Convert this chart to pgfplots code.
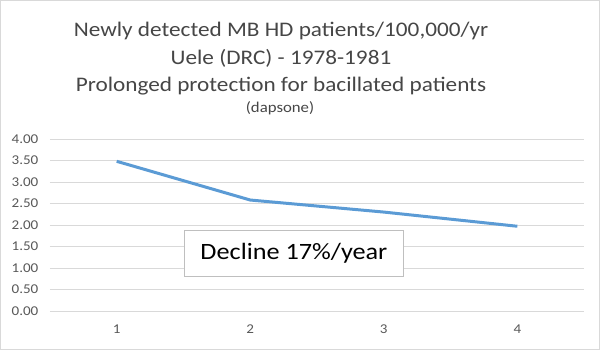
\documentclass[border=0pt]{standalone}
\usepackage{pgfplots}
\pgfplotsset{compat=1.18}
\usepackage{fontspec}
\setmainfont{Carlito}[FakeStretch=1.12]
\definecolor{lineblue}{RGB}{91,155,213}
\definecolor{gridgray}{RGB}{217,217,217}
\definecolor{ticktext}{RGB}{89,89,89}
\definecolor{titletext}{RGB}{70,70,70}
\definecolor{boxgray}{RGB}{191,191,191}
\begin{document}
\begin{tikzpicture}[x=1bp,y=1bp]
\draw[draw=gridgray, line width=0.75bp] (0.5,0.5) rectangle (599.5,349.5);
\node[text=titletext, font=\fontsize{20.8}{24}\selectfont] at (281,319) {Newly detected MB HD patients/100,000/yr};
\node[text=titletext, font=\fontsize{20.8}{24}\selectfont] at (281,292) {Uele (DRC) - 1978-1981};
\node[text=titletext, font=\fontsize{20.8}{24}\selectfont] at (281,264) {Prolonged protection for bacillated patients};
\node[text=titletext, font=\fontsize{15}{18}\selectfont] at (280,242) {(dapsone)};
\begin{axis}[
  at={(50bp,39bp)}, anchor=south west,
  width=534bp, height=172bp, scale only axis,
  xmin=0.5, xmax=4.5, ymin=0, ymax=4,
  axis line style={draw=none},
  ymajorgrids, grid style={draw=gridgray, line width=0.75bp},
  major tick length=0pt,
  xtick={1,2,3,4},
  ytick={0,0.5,1,1.5,2,2.5,3,3.5,4},
  /pgf/number format/assume math mode=true,
  yticklabel style={/pgf/number format/fixed, /pgf/number format/fixed zerofill, /pgf/number format/precision=2, xshift=-8bp},
  tick label style={font=\fontsize{13.5}{16}\selectfont, text=ticktext},
  xticklabel style={yshift=-10bp},
  clip=false,
]
\addplot[color=lineblue, line width=3bp, mark=none] coordinates {
  (1,3.48) (2,2.58) (3,2.30) (4,1.97)
};
\node[draw=boxgray, line width=0.75bp, fill=white, text=black,
  minimum width=219bp, minimum height=46bp, inner sep=0pt,
  font=\fontsize{23.5}{28}\selectfont] at (axis cs:2.327,1.35) {Decline 17\%/year};
\end{axis}
\end{tikzpicture}
\end{document}
